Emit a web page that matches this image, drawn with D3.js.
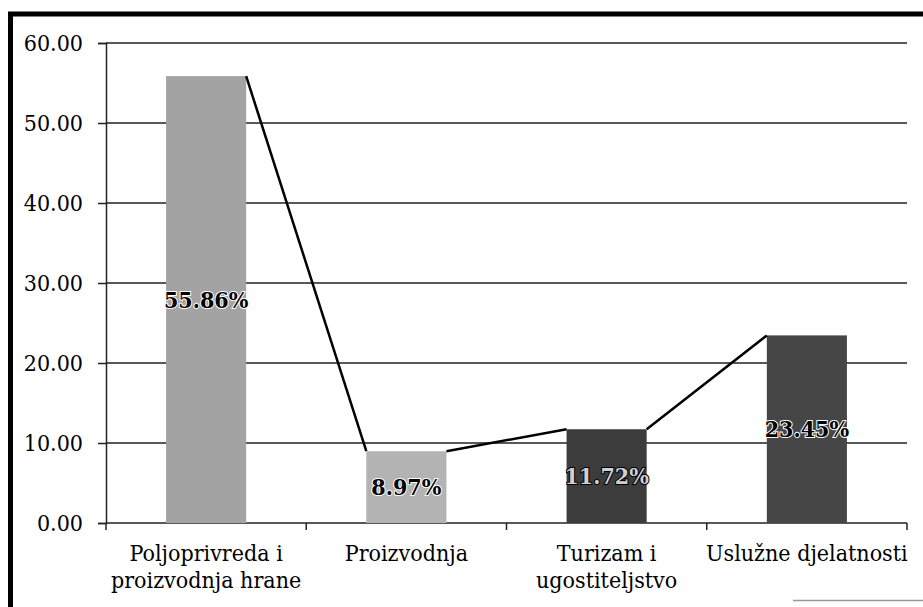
<!DOCTYPE html>
<html>
<head>
<meta charset="utf-8">
<script src="https://cdn.jsdelivr.net/npm/d3@7"></script>
<style>
  body { margin: 0; background: #fff; }
</style>
</head>
<body>
<div id="chart-area"></div>
<script>
let categories = [
  ["Poljoprivreda i", "proizvodnja hrane"],
  ["Proizvodnja"],
  ["Turizam i", "ugostiteljstvo"],
  ["Uslužne djelatnosti"]
]
let values = [55.86, 8.97, 11.72, 23.45]
let valueLabels = ["55.86%", "8.97%", "11.72%", "23.45%"]
let yTicks = [0, 10, 20, 30, 40, 50, 60]

let barColors = ["#a3a3a3", "#b3b3b3", "#3c3c3c", "#464646"]
let labelFill = ["#000", "#000", "#d0d0d0", "#000"]
let labelStroke = ["#fff", "#fff", "#000", "#fff"]

const serif = "'DejaVu Serif Condensed', 'DejaVu Serif'"

let svgW = 923;
let svgH = 607;

let margin = { left: 106, right: 16, top: 43, bottom: 84 }
let chartW = svgW - margin.left - margin.right;
let chartH = svgH - margin.top - margin.bottom;

let data = values.map((v, i) => ({
  key: i,
  name: categories[i],
  value: v,
  label: valueLabels[i]
}))

let x = d3.scaleBand()
  .domain(data.map(d => d.key))
  .range([0, chartW])
  .paddingInner(0.6)
  .paddingOuter(0.3)

let band = d3.scaleBand()
  .domain(data.map(d => d.key))
  .range([0, chartW])

let y = d3.scaleLinear()
  .domain([0, 60])
  .range([chartH, 0])

let svg = d3.select("#chart-area")
  .append("svg")
  .attr("width", svgW)
  .attr("height", svgH)
  .attr("font-family", serif)

svg.append("path")
  .attr("d", `M10.5,${svgH} V14 H${svgW}`)
  .attr("fill", "none")
  .attr("stroke", "#000")
  .attr("stroke-width", 5)

svg.append("line")
  .attr("x1", 793).attr("x2", svgW)
  .attr("y1", 600.5).attr("y2", 600.5)
  .attr("stroke", "#999")
  .attr("stroke-width", 1.5)

let group = svg.append("g")
  .attr("transform", `translate(${margin.left},${margin.top})`)

group.selectAll(".grid")
  .data(yTicks.filter(t => t > 0))
  .enter()
  .append("line")
  .attr("class", "grid")
  .attr("x1", 0)
  .attr("x2", chartW)
  .attr("y1", d => y(d))
  .attr("y2", d => y(d))
  .attr("stroke", "#222")
  .attr("stroke-width", 1.5)

let yAxis = d3.axisLeft(y)
  .tickValues(yTicks)
  .tickFormat(d3.format(".2f"))
  .tickSize(8)
  .tickPadding(15)

let groupY = group.append("g").call(yAxis)
groupY.attr("font-family", serif).attr("font-size", 23)
groupY.select(".domain").attr("stroke", "#222").attr("stroke-width", 1.5)
groupY.selectAll(".tick line").attr("stroke", "#222").attr("stroke-width", 1.5)
groupY.selectAll(".tick text").attr("fill", "#000")

group.append("line")
  .attr("x1", 0).attr("x2", chartW)
  .attr("y1", chartH).attr("y2", chartH)
  .attr("stroke", "#222")
  .attr("stroke-width", 1.5)

let bounds = data.map(d => band(d.key)).concat([chartW])
group.selectAll(".xtick")
  .data(bounds)
  .enter()
  .append("line")
  .attr("class", "xtick")
  .attr("x1", d => d).attr("x2", d => d)
  .attr("y1", chartH).attr("y2", chartH + 7)
  .attr("stroke", "#222")
  .attr("stroke-width", 1.5)

group.selectAll("rect.bar")
  .data(data)
  .enter()
  .append("rect")
  .attr("class", "bar")
  .attr("x", d => x(d.key))
  .attr("width", x.bandwidth())
  .attr("y", d => y(d.value))
  .attr("height", d => chartH - y(d.value))
  .attr("fill", (d, i) => barColors[i])

// series lines: top-right of one bar to top-left of the next
group.selectAll(".series-line")
  .data(d3.pairs(data))
  .enter()
  .append("line")
  .attr("class", "series-line")
  .attr("x1", d => x(d[0].key) + x.bandwidth())
  .attr("y1", d => y(d[0].value))
  .attr("x2", d => x(d[1].key))
  .attr("y2", d => y(d[1].value))
  .attr("stroke", "#000")
  .attr("stroke-width", 2.5)

group.selectAll(".vlabel")
  .data(data)
  .enter()
  .append("text")
  .attr("class", "vlabel")
  .attr("x", d => x(d.key) + x.bandwidth() / 2)
  .attr("y", d => (y(d.value) + chartH) / 2)
  .attr("dy", "0.35em")
  .attr("text-anchor", "middle")
  .attr("font-family", serif)
  .attr("font-weight", "bold")
  .attr("font-size", 23)
  .attr("paint-order", "stroke")
  .attr("stroke", (d, i) => labelStroke[i])
  .attr("stroke-width", 2)
  .attr("fill", (d, i) => labelFill[i])
  .text(d => d.label)

let cat = group.selectAll(".cat")
  .data(data)
  .enter()
  .append("text")
  .attr("class", "cat")
  .attr("x", d => band(d.key) + band.bandwidth() / 2)
  .attr("y", chartH + 38)
  .attr("text-anchor", "middle")
  .attr("font-family", serif)
  .attr("font-size", 23)
  .attr("fill", "#000")

cat.selectAll("tspan")
  .data(d => d.name)
  .enter()
  .append("tspan")
  .attr("x", function () { return d3.select(this.parentNode).attr("x") })
  .attr("dy", (d, i) => i === 0 ? 0 : 27)
  .text(d => d)
</script>
</body>
</html>
